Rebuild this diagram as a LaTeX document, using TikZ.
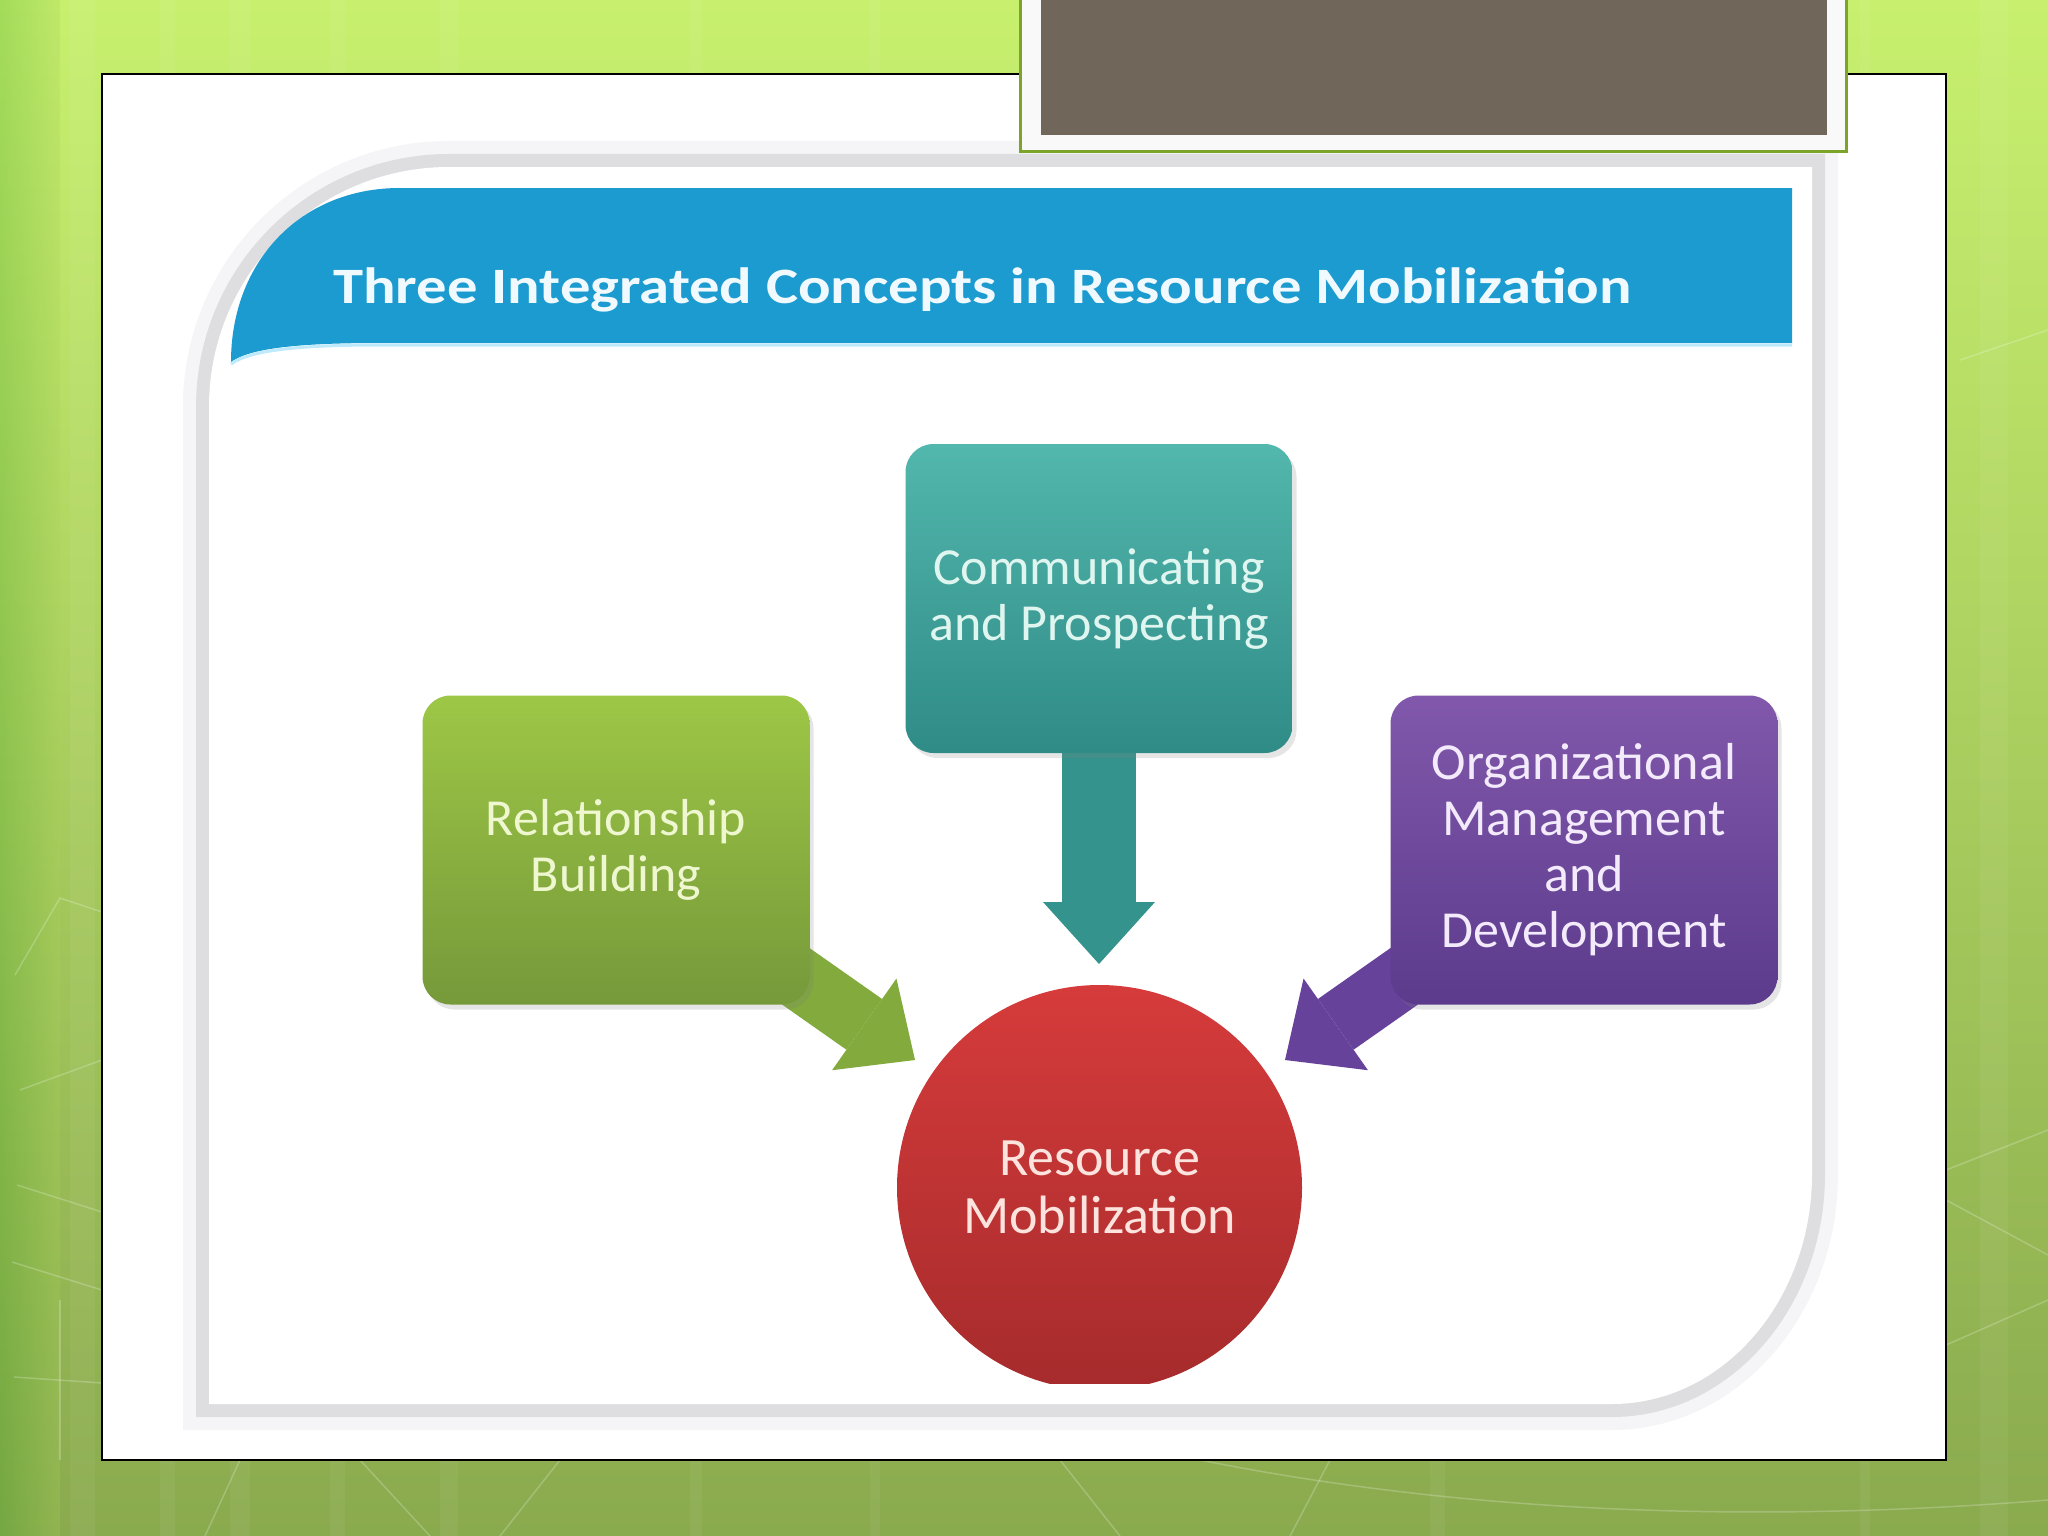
\documentclass[tikz,border=0pt]{standalone}
\usepackage{fontspec}
\setmainfont{Carlito}
\usetikzlibrary{arrows.meta,shadows}
\definecolor{bgtop}{HTML}{C8F06E}
\definecolor{bgmid}{HTML}{AAD45C}
\definecolor{bgbot}{HTML}{8AAA4E}
\definecolor{hdrblue}{HTML}{1B9BCF}
\definecolor{tealT}{HTML}{52B7AD}
\definecolor{tealB}{HTML}{2F8B86}
\definecolor{tealA}{HTML}{35938D}
\definecolor{grnT}{HTML}{9DC746}
\definecolor{grnB}{HTML}{76993A}
\definecolor{grnA}{HTML}{82AA3C}
\definecolor{purT}{HTML}{8158AB}
\definecolor{purB}{HTML}{5C3B8C}
\definecolor{purA}{HTML}{66429B}
\definecolor{redT}{HTML}{D63B3B}
\definecolor{redB}{HTML}{A62B2C}
\definecolor{brownbox}{HTML}{70675A}
\definecolor{framegreen}{HTML}{7BA428}
\definecolor{shadowA}{HTML}{DEDDE0}
\definecolor{shadowB}{HTML}{F5F4F7}
\definecolor{txtteal}{HTML}{DFF5EF}
\definecolor{txtgrn}{HTML}{EEF7CF}
\definecolor{txtpur}{HTML}{F3EAFB}
\definecolor{txtred}{HTML}{FDE3DE}
\pgfdeclarelayer{bglayer}
\pgfdeclarelayer{midlayer}
\pgfsetlayers{bglayer,midlayer,main}
\newcommand\cardfill[2]{%
\pgfmathsetmacro\cardL{209-#1}\pgfmathsetmacro\cardT{167-#1}%
\pgfmathsetmacro\cardR{1812+#1}\pgfmathsetmacro\cardB{1404+#1}%
\pgfmathsetmacro\cardrA{240+#1}\pgfmathsetmacro\cardkA{0.5523*\cardrA}%
\pgfmathsetmacro\cardrx{200+#1}\pgfmathsetmacro\cardry{230+#1}%
\fill[#2] (\cardL,\cardB) -- (\cardL,\cardT+\cardrA)
 .. controls (\cardL,\cardT+\cardrA-\cardkA) and (\cardL+\cardrA-\cardkA,\cardT) .. (\cardL+\cardrA,\cardT)
 -- (\cardR,\cardT) -- (\cardR,\cardB-\cardry)
 .. controls (\cardR,\cardB-\cardry+0.5523*\cardry) and (\cardR-\cardrx+0.5523*\cardrx,\cardB) .. (\cardR-\cardrx,\cardB)
 -- cycle;}
\begin{document}
\begin{tikzpicture}[x=1pt,y=-1pt,
  bgline/.style={white,opacity=0.22,line width=1.5pt},
  bgstripe/.style={white,opacity=0.05},
  conceptbox/.style={rectangle,rounded corners=28pt,minimum width=387pt,minimum height=309pt,
    inner sep=0pt,align=center,font=\fontsize{52}{56}\selectfont,
    drop shadow={opacity=0.2,shadow xshift=4pt,shadow yshift=-5pt}},
  blockarrow/.style={line width=62pt,line cap=butt,
    -{Triangle[length=62pt,width=112pt,line width=0pt]}}]
\useasboundingbox (0,0) rectangle (2048,1536);
\begin{pgfonlayer}{bglayer}
% slide background
\shade[top color=bgtop,middle color=bgmid,bottom color=bgbot] (0,0) rectangle (2048,1536);
\shade[left color=black!40!green!60!bgbot,right color=bgmid,opacity=0.25] (0,0) rectangle (60,1536);
\foreach \xa/\xb in {70/95,160/175,230/250,330/345,440/458,690/702,870/880,1430/1445,1980/2008,1860/1870}
  \fill[bgstripe] (\xa,0) rectangle (\xb,1536);
\draw[bgline] (15,975) -- (60,898) -- (102,912);
\draw[bgline] (17,1185) -- (102,1212);
\draw[bgline] (12,1262) -- (102,1290);
\draw[bgline] (14,1377) -- (102,1383);
\draw[bgline] (20,1090) -- (102,1060);
\draw[bgline] (60,1300) -- (60,1460);
\draw[bgline] (240,1460) -- (205,1536);
\draw[bgline] (360,1460) -- (430,1536);
\draw[bgline] (560,1460) -- (500,1536);
\draw[bgline] (1060,1460) -- (1120,1536);
\draw[bgline] (1330,1460) -- (1290,1536);
\draw[bgline] (1200,1460) .. controls (1500,1520) and (1800,1520) .. (2048,1500);
\draw[bgline] (1946,1170) -- (2048,1130);
\draw[bgline] (1946,1200) -- (2048,1255);
\draw[bgline] (1946,1345) -- (2048,1300);
\draw[bgline] (1960,360) -- (2048,330);
% slide frame
\draw[line width=2pt,fill=white] (102,74) rectangle (1946,1460);
% card with shadow
\cardfill{26}{shadowB}
\cardfill{13}{shadowA}
\cardfill{0}{white}
% header band
\fill[hdrblue] (231,362) .. controls (231,262) and (300,188) .. (400,188)
  -- (1792,188) -- (1792,343) -- (380,343) .. controls (300,343) and (250,348) .. (231,362) -- cycle;
\draw[cyan!25,line width=3pt] (231,364) .. controls (250,350) and (300,345) .. (380,345) -- (1792,345);
\node[anchor=base west,inner sep=0pt,text=white!94!cyan,font=\fontsize{51}{60}\selectfont\bfseries]
  (title) at (333,303) {\scalebox{1.19}[1]{Three Integrated Concepts in Resource Mobilization}};
\end{pgfonlayer}
% concept boxes
\node[conceptbox,top color=tealT,bottom color=tealB,text=txtteal] (cp) at (1099,598.5) {Communicating\\and Prospecting};
\node[conceptbox,top color=grnT,bottom color=grnB,text=txtgrn] (rb) at (616,850) {Relationship\\Building};
\node[conceptbox,top color=purT,bottom color=purB,text=txtpur] (om) at (1584,850) {Organizational\\Management\\and\\Development};
% central circle
\begin{scope}
\clip (0,0) rectangle (2048,1383);
\node[circle,minimum size=405pt,inner sep=0pt,top color=redT,bottom color=redB,text=txtred,
  align=center,font=\fontsize{54}{58}\selectfont] (rm) at (1099.5,1187.5) {Resource\\Mobilization};
\end{scope}
% block arrows
\coordinate (cptip) at (1099,964);
\coordinate (rbtip) at (915,1060);
\coordinate (omtip) at (1285,1060);
\begin{pgfonlayer}{midlayer}
\draw[blockarrow,draw=tealA,line width=74pt] (cp.center) -- (cptip);
\draw[blockarrow,draw=grnA] (rb.center) -- (rbtip);
\draw[blockarrow,draw=purA] (om.center) -- (omtip);
\end{pgfonlayer}
% title placeholder box at the top
\draw[framegreen,line width=3pt,fill=white!95!gray] (1020,-5) rectangle (1846,152);
\fill[brownbox] (1041,-5) rectangle (1827,135);
\end{tikzpicture}
\end{document}
